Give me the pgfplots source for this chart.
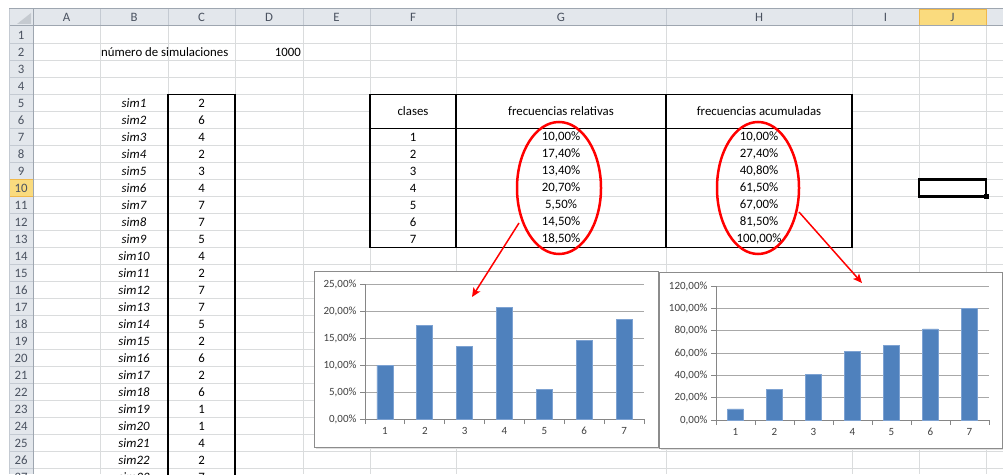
\documentclass[border=0pt]{standalone}
\usepackage{fontspec}
\setmainfont{Carlito}
\usepackage{pgfplots}
\pgfplotsset{compat=1.18}
\usetikzlibrary{arrows.meta}
\definecolor{hdr}{HTML}{E3E7EC}
\definecolor{hdrline}{HTML}{C4CAD2}
\definecolor{hdrdark}{HTML}{9EA6B0}
\definecolor{hdrtext}{HTML}{4A5260}
\definecolor{sheetgrid}{HTML}{DADCDD}
\definecolor{sel}{HTML}{FADB7E}
\definecolor{selline}{HTML}{F0B84A}
\definecolor{barfill}{HTML}{4F81BD}
\definecolor{barline}{HTML}{7DA2D2}
\definecolor{cgrid}{HTML}{A8A8A8}
\definecolor{caxis}{HTML}{868686}
\definecolor{cborder}{HTML}{8C8C8C}
\definecolor{ctext}{HTML}{404040}
\begin{document}
\begin{tikzpicture}[x=1pt,y=1pt]
\useasboundingbox (0,0) rectangle (1003,474);
\clip (0,0) rectangle (1003,474);
\fill[white] (0,0) rectangle (1003,474);
\begin{scope}[shift={(0,474)},y=-1pt,font=\fontsize{12.8}{14}\selectfont]
% sheet gridlines
\foreach \r in {1,...,27} \draw[sheetgrid,line width=1] (33,{26.5+17*\r}) -- (1003,{26.5+17*\r});
\foreach \c in {100,168,235,303,370,456,666,852,919,986} \draw[sheetgrid,line width=1] (\c,26) -- (\c,474);
% headers
\fill[hdr] (9,9) rectangle (1003,26);
\fill[hdr] (9,26) rectangle (33,474);
\fill[sel] (919,9.5) rectangle (986,26);
\fill[sel] (9,179.5) rectangle (33,196.5);
\foreach \c in {33,100,168,235,303,370,456,666,852,919,986} \draw[hdrline,line width=1] (\c,9) -- (\c,26);
\foreach \r in {1,...,27} \draw[hdrline,line width=1] (9,{26.5+17*\r}) -- (33,{26.5+17*\r});
\draw[selline,line width=1] (919,9.5) rectangle (986,26);
\draw[selline,line width=1] (9,179.5) rectangle (33,196.5);
\draw[hdrdark,line width=1] (9,9) -- (1003,9);
\draw[hdrdark,line width=1] (9,26) -- (1003,26);
\draw[hdrdark,line width=1] (33,9) -- (33,474);
\draw[hdrline,line width=1] (9,9) -- (9,474);
\fill[hdrdark!60] (31,13) -- (31,24) -- (17,24) -- cycle;
\foreach \x/\l in {66.5/A,134/B,201.5/C,269/D,336.5/E,413/F,561/G,759/H,885.5/I,952.5/J}
  \node[text=hdrtext] at (\x,17.5) {\l};
\foreach \r in {1,...,27} \node[text=hdrtext] at (21,{18+17*\r}) {\r};
% cells
\node[anchor=west,inner sep=0pt] at (101,52) {número de simulaciones};
\node[anchor=east,inner sep=0pt] at (301,52) {1000};
\foreach \i/\v in {1/2,2/6,3/4,4/2,5/3,6/4,7/7,8/7,9/5,10/4,11/2,12/7,13/7,14/5,15/2,16/6,17/2,18/6,19/1,20/1,21/4,22/2,23/7} {
  \node[font=\fontsize{12.8}{14}\selectfont\itshape] at (134,{86+17*\i}) {sim\i};
  \node at (201.5,{86+17*\i}) {\v};
}
\draw[black,line width=1.3] (168,480) -- (168,94.5) -- (235,94.5) -- (235,480);
% frequency table
\fill[white] (371,95.5) rectangle (851,127.5);
\draw[black,line width=1.3] (370,94.5) rectangle (852,247.5);
\draw[black,line width=1.3] (370,128.5) -- (852,128.5);
\draw[black,line width=1.3] (456,94.5) -- (456,247.5);
\draw[black,line width=1.3] (666,94.5) -- (666,247.5);
\node at (413,111.5) {clases};
\node at (561,111.5) {frecuencias relativas};
\node at (759,111.5) {frecuencias acumuladas};
\foreach \k/\a/\b in {1/{10,00\%}/{10,00\%},2/{17,40\%}/{27,40\%},3/{13,40\%}/{40,80\%},4/{20,70\%}/{61,50\%},5/{5,50\%}/{67,00\%},6/{14,50\%}/{81,50\%},7/{18,50\%}/{100,00\%}} {
  \node at (413,{120+17*\k}) {\k};
  \node at (561,{120+17*\k}) {\a};
  \node at (759,{120+17*\k}) {\b};
}
% selected cell
\draw[black,line width=2.2] (919,179.5) rectangle (986,196.5);
\fill[black] (984,194.5) rectangle (989,199.5);
% chart boxes
\fill[black!12] (316,274) rectangle (660,449);
\fill[black!12] (661,275) rectangle (1004,450);
\draw[cborder,fill=white,line width=1] (314,272) rectangle (658,447);
\draw[cborder,fill=white,line width=1] (659,273) rectangle (1002,448);
\end{scope}

\pgfplotsset{
  excelchart/.style={
    anchor=south west, scale only axis,
    xmin=0.5, xmax=7.5, ymin=0, enlargelimits=false,
    axis x line*=bottom, axis y line*=left,
    axis line style={caxis,line width=1pt},
    xtick={1,...,7}, xticklabels={1,2,3,4,5,6,7},
    minor xtick={0.5,1.5,...,7.5},
    every major x tick/.append style={draw=none},
    tick align=outside, major tick length=5pt, minor tick length=5pt,
    tick style={caxis,line width=1pt},
    ymajorgrids, major grid style={cgrid,line width=1pt},
    ticklabel style={font=\fontsize{11}{12}\selectfont, text=ctext},
    ybar,
  }
}
\begin{axis}[excelchart, at={(365pt,55pt)}, width=279pt, height=135pt, ymax=25,
  ytick={0,5,...,25},
  yticklabels={{0,00\%},{5,00\%},{10,00\%},{15,00\%},{20,00\%},{25,00\%}},
  bar width=16pt]
\addplot[fill=barfill,draw=barline,line width=0.6pt] coordinates {(1,10.0) (2,17.4) (3,13.4) (4,20.7) (5,5.5) (6,14.5) (7,18.5)};
\end{axis}
\begin{axis}[excelchart, at={(716pt,54pt)}, width=273pt, height=134pt, ymax=120,
  ytick={0,20,...,120},
  yticklabels={{0,00\%},{20,00\%},{40,00\%},{60,00\%},{80,00\%},{100,00\%},{120,00\%}},
  bar width=15.6pt]
\addplot[fill=barfill,draw=barline,line width=0.6pt] coordinates {(1,10.0) (2,27.4) (3,40.8) (4,61.5) (5,67.0) (6,81.5) (7,100.0)};
\end{axis}

\begin{scope}[shift={(0,474)},y=-1pt]
\draw[red,line width=2.5] (559,188) ellipse [x radius=42, y radius=66];
\draw[red,line width=2.5] (758,188) ellipse [x radius=41, y radius=66];
\draw[red,line width=1.5,-{Stealth[length=9pt,width=8pt,inset=2pt]}] (519,223) -- (472,297);
\draw[red,line width=1.5,-{Stealth[length=9pt,width=8pt,inset=2pt]}] (799,212) -- (862,283);
\end{scope}
\end{tikzpicture}
\end{document}
